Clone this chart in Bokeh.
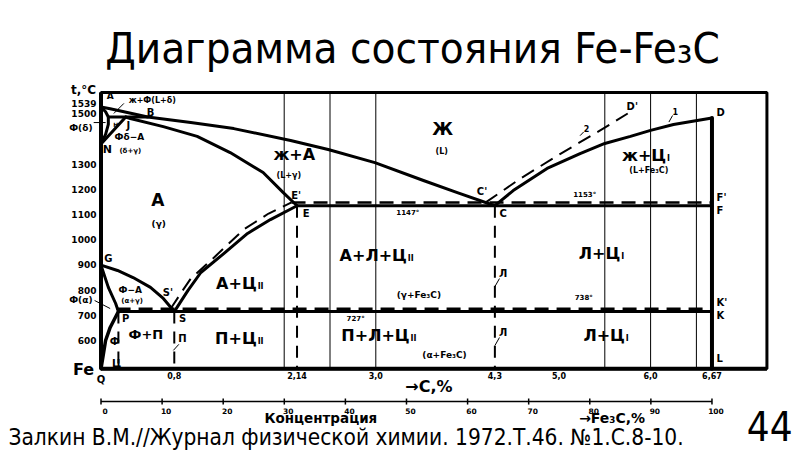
from bokeh.plotting import figure
from bokeh.models import Range1d, Label
from bokeh.core.properties import value
from bokeh.embed import file_html
from bokeh.resources import INLINE

# ---------------- data: carbon content C (wt.%), temperature T (°C) ----------------
liq_abc_c = [0, 0.10, 0.25, 0.40, 0.51, 0.98, 1.45, 2.07, 2.48, 2.99, 3.52, 3.89, 4.30]
liq_abc_t = [1539, 1532, 1520, 1508, 1499, 1477, 1453, 1406, 1370, 1318, 1247, 1199, 1147]
liq_cd_c = [4.30, 4.50, 4.87, 5.23, 5.50, 5.78, 6.00, 6.25, 6.67]
liq_cd_t = [1147, 1207, 1295, 1354, 1394, 1422, 1446, 1469, 1495]
liq_cd_meta_c = [4.20, 4.58, 5.02, 5.45, 5.75]
liq_cd_meta_t = [1160, 1255, 1354, 1446, 1513]
delta_ahn_c = [0, 0.05, 0.08, 0.08, 0.05, 0]
delta_ahn_t = [1539, 1520, 1499, 1470, 1430, 1392]
peri_hjb_c = [0.08, 0.51]
peri_hjb_t = [1499, 1499]
nj_c = [0, 0.27]
nj_t = [1392, 1499]
sol_je_c = [0.27, 0.32, 0.68, 1.05, 1.41, 1.77, 1.99, 2.14]
sol_je_t = [1499, 1493, 1461, 1422, 1358, 1279, 1199, 1147]
eut_ecf_c = [2.14, 6.67]
eut_ecf_t = [1147, 1147]
eut_meta_c = [2.08, 6.67]
eut_meta_t = [1160, 1160]
acm_se_c = [0.80, 0.95, 1.09, 1.34, 1.60, 1.85, 2.14]
acm_se_t = [727, 811, 882, 957, 1037, 1092, 1147]
acm_meta_c = [0.76, 0.87, 0.98, 1.20, 1.56, 1.83, 2.08]
acm_meta_t = [738, 799, 858, 930, 1053, 1116, 1160]
a3_gs_c = [0, 0.18, 0.35, 0.54, 0.68, 0.80]
a3_gs_t = [911, 890, 862, 823, 779, 727]
gp_c = [0, 0.08, 0.16, 0.19]
gp_t = [911, 823, 759, 727]
pq_c = [0.19, 0.10, 0.05, 0.02, 0]
pq_t = [727, 664, 612, 545, 500]
eutd_psk_c = [0.19, 6.67]
eutd_psk_t = [727, 727]
eutd_meta_c = [0.17, 6.67]
eutd_meta_t = [738, 738]
cem_d_c = [6.67, 6.67]
cem_d_t = [1495, 500]
vdash_c = [0.19, 0.80, 2.14, 4.30]
vdash_top = [727, 727, 1147, 1147]
vdash_bottom = [500, 500, 500, 500]

t_ticks = [600, 700, 800, 900, 1000, 1100, 1200, 1300, 1500, 1539]
c_ticks = [0.8, 2.14, 3.0, 4.3, 5.0, 6.0, 6.67]
c_labels = ["0,8", "2,14", "3,0", "4,3", "5,0", "6,0", "6,67"]
fe3c_ticks = [0, 10, 20, 30, 40, 50, 60, 70, 80, 90, 100]
guide_c = [2.0, 2.5, 3.0, 5.5, 6.0, 6.5]

# diagram box (C %, °C)
C_MIN, C_MAX = 0.0, 7.27
T_MIN, T_MAX = 500, 1596
C_FE3C = 6.67  # C content of Fe3C, for the Fe3C % scale

DIAG = "DejaVu Sans"
COND = "'DejaVu Sans Condensed', 'Liberation Sans Narrow', 'DejaVu Sans', sans-serif"

p = figure(width=800, height=450, output_backend="svg", toolbar_location=None,
           x_range=Range1d(-1.0972, 7.6365), y_range=Range1d(175.7, 1961.3),
           x_axis_location=None, y_axis_location=None,
           min_border=0, min_border_left=0, min_border_right=0, min_border_top=0, min_border_bottom=0)
p.background_fill_color = "white"
p.border_fill_color = "white"
p.outline_line_color = None
p.xgrid.visible = False
p.ygrid.visible = False

K = "black"
# guide verticals and diagram box
p.segment(guide_c, [T_MIN] * len(guide_c), guide_c, [T_MAX] * len(guide_c), line_color=K, line_width=1)
p.quad(left=C_MIN, right=C_MAX, bottom=T_MIN, top=T_MAX, fill_color=None, line_color=K, line_width=3)
p.line([C_MIN, C_MIN], [T_MIN, T_MAX], line_color=K, line_width=4)
p.line([C_MIN, C_MAX], [T_MIN, T_MIN], line_color=K, line_width=4)

def ln(xs, ys, w=3, dash="solid"):
    p.line(xs, ys, line_color=K, line_width=w, line_dash=dash, line_join="round",
           line_cap="round" if dash == "solid" else "butt")

DASH = "14 8"
ln(liq_abc_c, liq_abc_t)
ln(liq_cd_c, liq_cd_t)
ln(liq_cd_meta_c, liq_cd_meta_t, 2, DASH)
ln(delta_ahn_c, delta_ahn_t)
ln(peri_hjb_c, peri_hjb_t)
ln(nj_c, nj_t)
ln(sol_je_c, sol_je_t)
ln(eut_ecf_c, eut_ecf_t)
ln(eut_meta_c, eut_meta_t, 2.5, DASH)
ln(acm_se_c, acm_se_t)
ln(acm_meta_c, acm_meta_t, 2, DASH)
ln(a3_gs_c, a3_gs_t)
ln(gp_c, gp_t)
ln(pq_c, pq_t, 3.5)
ln(eutd_psk_c, eutd_psk_t)
ln(eutd_meta_c, eutd_meta_t, 2.5, DASH)
ln(cem_d_c, cem_d_t, 4)
p.segment(vdash_c, vdash_top, vdash_c, vdash_bottom, line_color=K, line_width=2, line_dash="12 8")

# small leader lines
p.segment([0.25, -0.08, -0.07, 6.24, 4.30, 4.30, 0.79, 5.27],
          [1553, 1477, 771, 1505, 826, 592, 573, 1440],
          [0.14, 0.05, 0.10, 6.20, 4.35, 4.35, 0.85, 5.23],
          [1513, 1477, 739, 1479, 858, 624, 597, 1425],
          line_color=K, line_width=1)

# ---- temperature scale (left) ----
p.text(x=[-0.05] * len(t_ticks), y=t_ticks, text=[str(t) for t in t_ticks],
       text_font=value(DIAG), text_font_style="bold", text_font_size="9px",
       text_align="right", text_baseline="middle", y_offset=-3, text_color=K)
# ---- C % scale (below) ----
p.text(x=c_ticks, y=[473] * len(c_ticks), text=c_labels,
       text_font=value(DIAG), text_font_style="bold", text_font_size="8px",
       text_align="center", text_baseline="middle", text_color=K)
# ---- Fe3C % scale ----
fe3c_c = [f * C_FE3C / 100 for f in fe3c_ticks]
T_FE3C = 370
p.line([fe3c_c[0], fe3c_c[-1]], [T_FE3C, T_FE3C], line_color=K, line_width=1.5)
p.segment(fe3c_c, [T_FE3C - 12] * len(fe3c_c), fe3c_c, [T_FE3C + 12] * len(fe3c_c),
          line_color=K, line_width=1.5)
p.text(x=fe3c_c, y=[T_FE3C - 36] * len(fe3c_c), text=[str(f) for f in fe3c_ticks],
       text_font=value(DIAG), text_font_style="bold", text_font_size="7.5px",
       text_align="center", text_baseline="middle", x_offset=4, text_color=K)

def lab(text, c, t, size, style="bold", align="center", baseline="middle", font=DIAG):
    p.add_layout(Label(x=c, y=t, text=text, text_font=font, text_font_size=f"{size}px",
                       text_font_style=style, text_align=align, text_baseline=baseline,
                       text_color="black"))

# region labels
lab("Ж", 3.73, 1453, 17)
lab("(L)", 3.72, 1362, 8)
lab("ж+А", 2.11, 1350, 16)
lab("(L+γ)", 2.05, 1267, 8)
lab("А", 0.62, 1168, 17)
lab("(γ)", 0.63, 1076, 9)
for txt, sub, c, t in [("А+Ц", "II", 1.70, 838), ("П+Ц", "II", 1.70, 620),
                       ("А+Л+Ц", "II", 3.34, 949), ("П+Л+Ц", "II", 3.37, 632),
                       ("ж+Ц", "I", 6.17, 1346), ("Л+Ц", "I", 5.67, 957),
                       ("Л+Ц", "I", 5.72, 632)]:
    lab(txt, c, t, 16, align="right")
    lab(sub, c + 0.01, t - 12, 8, align="left")
lab("(L+Fe₃C)", 5.98, 1287, 8)
lab("(γ+Fe₃C)", 3.47, 791, 9)
lab("(α+Fe₃C)", 3.75, 553, 9)
lab("Ф+П", 0.49, 636, 13)
lab("ж+Ф(L+δ)", 0.56, 1564, 8)
lab("Фδ−А", 0.31, 1418, 9)
lab("(δ+γ)", 0.32, 1366, 7)
lab("Ф−А", 0.32, 811, 9)
lab("(α+γ)", 0.34, 767, 7)
lab("1147°", 3.35, 1120, 7)
lab("1153°", 5.28, 1188, 7)
lab("727°", 2.78, 699, 7)
lab("738°", 5.27, 779, 7)
lab("1", 6.27, 1521, 8)
lab("2", 5.30, 1453, 8)
lab("Ф", 0.15, 608, 10)
lab("Ц", 0.17, 520, 10)
lab("П", 0.89, 620, 10)
lab("Л", 4.39, 878, 10)
lab("Л", 4.39, 644, 10)

# point letters
for txt, c, t, s in [("A", 0.10, 1584, 9), ("B", 0.54, 1517, 10), ("H", 0.16, 1469, 6),
                     ("J", 0.30, 1465, 10), ("N", 0.07, 1370, 11), ("E'", 2.13, 1188, 10),
                     ("E", 2.24, 1116, 10), ("C'", 4.16, 1203, 10), ("C", 4.39, 1116, 10),
                     ("D'", 5.80, 1541, 10), ("G", 0.08, 937, 10), ("S'", 0.73, 803, 10),
                     ("S", 0.89, 699, 10), ("P", 0.27, 699, 10)]:
    lab(txt, c, t, s)
for txt, t in [("D", 1517), ("F'", 1180), ("F", 1128), ("K'", 763), ("K", 711), ("L", 540)]:
    lab(txt, 6.72, t, 10, align="left")

# texts around the diagram
lab("t,°C", -0.19, 1608, 12)
lab("Ф(δ)", -0.22, 1457, 9)
lab("Ф(α)", -0.22, 771, 9)
lab("Fe", -0.19, 497, 16)
lab("Q", 0.0, 457, 10)
lab("→C,%", 3.58, 430, 16)
lab("Концентрация", 2.40, 303, 13.5)
lab("→Fe₃C,%", 5.58, 303, 14)
lab("Диаграмма состояния Fe-Fe₃C", 3.40, 1771, 43.5, style="normal", font=COND)
lab("Залкин В.М.//Журнал физической химии. 1972.Т.46. №1.С.8-10.", -1.01, 231, 22.5,
    style="normal", align="left", font=COND)
lab("44", 7.55, 271, 40, style="normal", align="right", font=COND)

open("out.html", "w").write(file_html(p, INLINE))
